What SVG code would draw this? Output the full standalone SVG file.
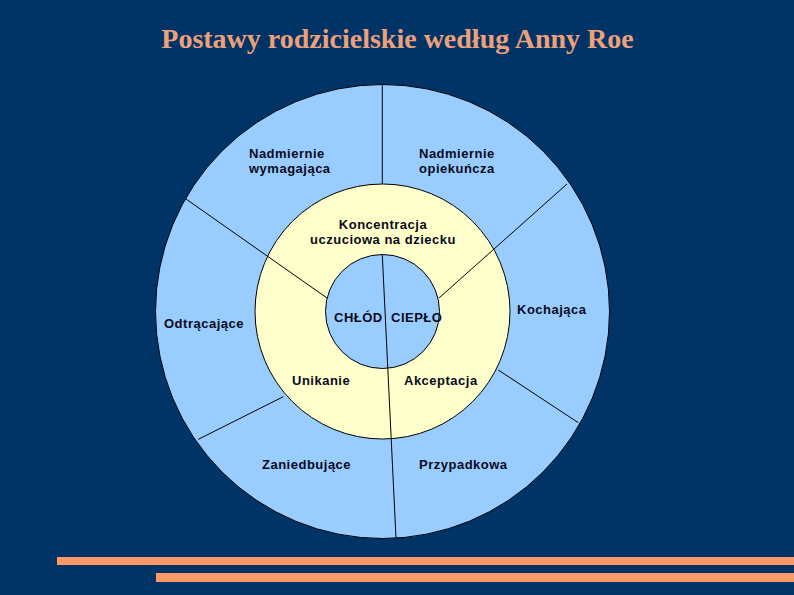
<svg xmlns="http://www.w3.org/2000/svg" width="794" height="595" viewBox="0 0 794 595">
<style>
.bg{fill:#003366}
.blue{fill:#99CCFF;stroke:#000;stroke-width:1}
.yel{fill:#FFFFCC;stroke:#000;stroke-width:1}
.ln{stroke:#000;stroke-width:1;fill:none}
.t{font-family:"Liberation Sans",Arial,sans-serif;font-size:13px;font-weight:bold;fill:#0a0a1a;letter-spacing:0.5px}
.tc{text-anchor:middle}
.title{font-family:"Liberation Serif","Times New Roman",serif;font-size:28px;font-weight:bold;fill:#EEA07A}
.bar{fill:#FF9966}
</style>
<rect class="bg" x="0" y="0" width="794" height="595"/>
<text class="title" x="397.5" y="48" text-anchor="middle">Postawy rodzicielskie według Anny Roe</text>
<g id="outer-ring"><circle class="blue" cx="382.5" cy="311.5" r="227"/></g>
<g id="middle-ring"><circle class="yel" cx="382.5" cy="311.5" r="127.5"/></g>
<g id="inner-circle"><circle class="blue" cx="382.5" cy="311.5" r="57"/></g>
<g id="connectors">
<line class="ln" x1="382.3" y1="84.5" x2="382.3" y2="184"/>
<line class="ln" x1="186" y1="199" x2="327" y2="298"/>
<line class="ln" x1="567" y1="184" x2="439" y2="298"/>
<line class="ln" x1="498.3" y1="370" x2="578.3" y2="422.7"/>
<line class="ln" x1="283.3" y1="396.7" x2="198.3" y2="439.3"/>
<line class="ln" x1="382.3" y1="255" x2="396" y2="538"/>
</g>
<g id="nadmiernie-wymagajaca"><text class="t" x="249" y="158">Nadmiernie</text><text class="t" x="249" y="173">wymagająca</text></g>
<g id="nadmiernie-opiekuncza"><text class="t" x="419" y="158">Nadmiernie</text><text class="t" x="419" y="173">opiekuńcza</text></g>
<g id="koncentracja"><text class="t tc" x="383" y="229">Koncentracja</text><text class="t tc" x="383" y="244">uczuciowa na dziecku</text></g>
<g id="chlod"><text class="t" x="334" y="321.5">CHŁÓD</text></g>
<g id="cieplo"><text class="t" x="391" y="321.5">CIEPŁO</text></g>
<g id="odtracajace"><text class="t" x="164" y="328">Odtrącające</text></g>
<g id="kochajaca"><text class="t" x="517" y="314">Kochająca</text></g>
<g id="unikanie"><text class="t" x="292" y="385">Unikanie</text></g>
<g id="akceptacja"><text class="t" x="404" y="385">Akceptacja</text></g>
<g id="zaniedbujace"><text class="t" x="262" y="469">Zaniedbujące</text></g>
<g id="przypadkowa"><text class="t" x="419" y="469">Przypadkowa</text></g>
<rect class="bar" x="57" y="557" width="737" height="8"/>
<rect class="bar" x="156" y="573" width="638" height="9"/>
</svg>
